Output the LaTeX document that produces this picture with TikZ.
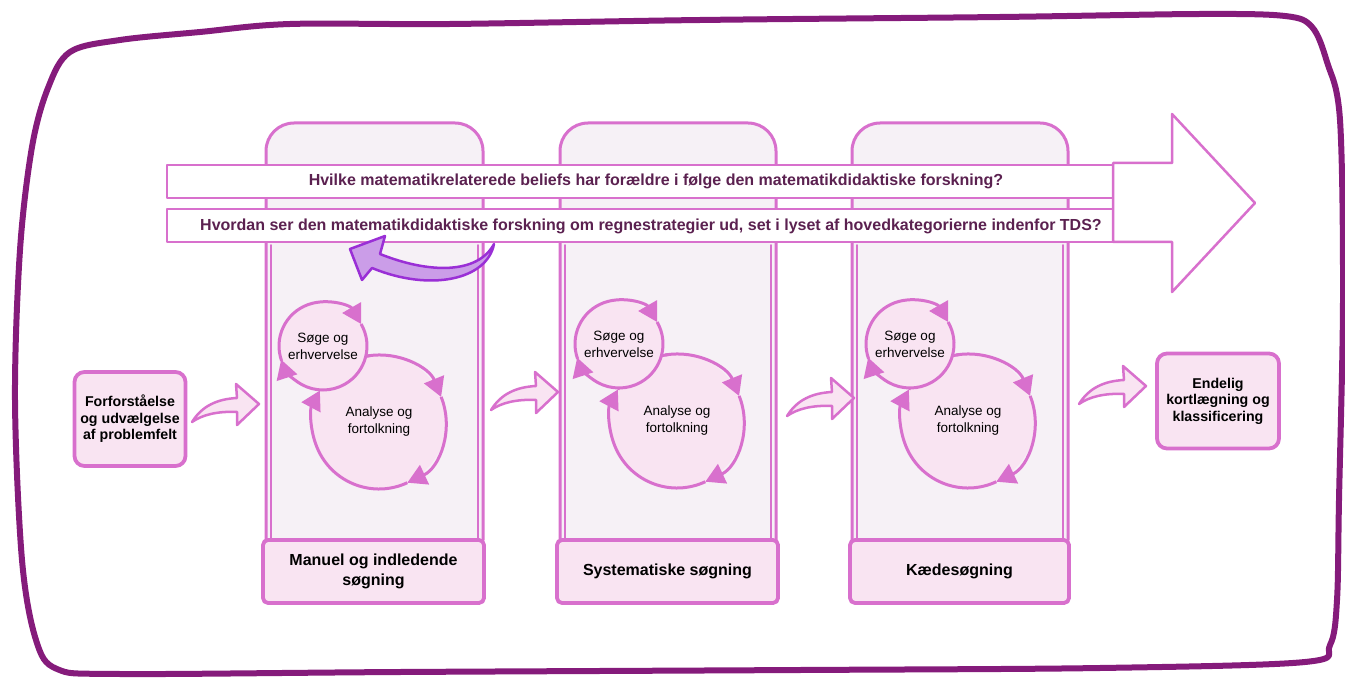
\documentclass[tikz,border=0pt]{standalone}
\usepackage{fontspec}
\setmainfont{Liberation Sans}
\usetikzlibrary{arrows.meta}
\definecolor{frame}{HTML}{851B7B}
\definecolor{orch}{HTML}{D870CD}
\definecolor{colbg}{HTML}{F6F1F6}
\definecolor{boxbg}{HTML}{F9E4F2}
\definecolor{qtext}{HTML}{5B2150}
\definecolor{violetfill}{HTML}{CB9DE8}
\definecolor{violetline}{HTML}{9A2FD6}
\begin{document}
\begin{tikzpicture}[x=1pt,y=-1pt,
  pinkline/.style={draw=orch, line width=3pt, line join=round, line cap=round},
  column/.style={pinkline, fill=colbg, rounded corners=28pt},
  sketch/.style={draw=orch, line width=1.8pt, line cap=round},
  bar/.style={draw=orch, line width=2.5pt, fill=white, line join=round},
  qlabel/.style={text=qtext, font=\bfseries\fontsize{16}{19}\selectfont, inner sep=0pt},
  labelbox/.style={pinkline, line width=3.8pt, fill=boxbg, rounded corners=5pt,
    minimum width=#1, minimum height=63pt, inner sep=0pt, align=center,
    font=\bfseries\fontsize{16}{20}\selectfont},
  sidebox/.style={pinkline, line width=3.8pt, fill=boxbg, rounded corners=10pt,
    inner sep=0pt, align=center, font=\bfseries\fontsize{14.2}{16.5}\selectfont},
  bubble/.style={circle, fill=boxbg, inner sep=0pt, minimum size=#1, align=center,
    font=\fontsize{13.5}{17}\selectfont},
  cyc/.style={draw=orch, line width=3pt, -{Triangle[length=19pt,width=21pt]}},
  cycplain/.style={draw=orch, line width=3pt},
  bend arrow/.pic={
    \filldraw[fill=boxbg, draw=orch, line width=2.5pt, line join=round]
      (0,0) .. controls (10,-16) and (25,-23) .. (45,-24) -- (44,-38) -- (67,-18)
      -- (45,3) -- (45,-10) .. controls (25,-11) and (10,-7) .. (0,0) -- cycle;
  }
]
\useasboundingbox (0,0) rectangle (1345,679);

% hand-drawn outer frame
\draw[frame, line width=6pt, line join=round]
  plot[smooth cycle, tension=0.55] coordinates {
    (32,147) (48,88) (70,52) (120,40) (200,32) (290,24) (450,24) (700,20)
    (1000,17) (1200,14) (1285,16) (1312,27) (1327,62) (1340,120) (1343,300)
    (1339,500) (1337,600) (1330,645) (1305,662) (1100,668) (800,670)
    (400,672) (120,674) (57,669) (36,640) (22,560) (15,400) (20,250)};

% three search phases (columns)
\path[column] (266,540) -- (266,123) -- (483,123) -- (483,540);
\path[column] (560,540) -- (560,123) -- (776,123) -- (776,540);
\path[column] (852,540) -- (852,123) -- (1068,123) -- (1068,540);
\foreach \l/\r in {266/483, 560/776, 852/1068}{
  \draw[sketch] (\l+5,245) -- (\l+5,538);
  \draw[sketch] (\r-5,245) -- (\r-5,538);
}

\node[labelbox=221pt] (p1) at (373.5,571.5) {Manuel og indledende\\søgning};
\node[labelbox=221pt] (p2) at (667.5,571.5) {Systematiske søgning};
\node[labelbox=219pt] (p3) at (959.5,571.5) {Kædesøgning};

% search / analysis cycles
\foreach \sx/\sy/\bx/\by/\k in {323/346/379/422/1, 619/344/677/421/2, 910/344/968/421/3}{
  \node[bubble=134pt] (a\k) at (\bx,\by) {Analyse og\\fortolkning};
  \begin{scope}[shift={(\bx,\by)}]
    \draw[cyc] (-100:67) arc[start angle=-100, end angle=-22, radius=67];
    \draw[cyc] (-22:67) arc[start angle=-22, end angle=65, radius=67];
    \draw[cyc] (65:67) arc[start angle=65, end angle=208, radius=67];
    \draw[cycplain] (208:67) arc[start angle=208, end angle=262, radius=67];
  \end{scope}
  \node[bubble=88pt] (s\k) at (\sx,\sy) {Søge og\\erhvervelse};
  \begin{scope}[shift={(\sx,\sy)}]
    \draw[cyc] (160:44) arc[start angle=160, end angle=330, radius=44];
    \draw[cyc] (330:44) arc[start angle=330, end angle=522, radius=44];
  \end{scope}
}

% research questions on the big arrow
\draw[bar] (167,165) rectangle (1113,198);
\draw[bar] (167,209) rectangle (1113,242);
\draw[bar] (1113,163) -- (1172,163) -- (1172,114) -- (1255,203) -- (1172,292)
  -- (1172,242) -- (1113,242) -- cycle;
\node[qlabel] (q1) at (656,181.5) {Hvilke matematikrelaterede beliefs har forældre i følge den matematikdidaktiske forskning?};
\node[qlabel] (q2) at (651,226) {Hvordan ser den matematikdidaktiske forskning om regnestrategier ud, set i lyset af hovedkategorierne indenfor TDS?};

% feedback arrow back to the questions
\filldraw[fill=violetfill, draw=violetline, line width=2.5pt, line join=round]
  (494,244) .. controls (478,274) and (430,274) .. (380,254) -- (385,236)
  -- (350,249) -- (362,280) -- (372,268) .. controls (430,292) and (487,280)
  .. (494,244) -- cycle;

% start and end boxes
\node[sidebox, minimum width=111pt, minimum height=94pt] (start) at (130,419)
  {Forforståelse\\og udvælgelse\\af problemfelt};
\node[sidebox, minimum width=122pt, minimum height=95pt] (end) at (1218,401)
  {Endelig\\kortlægning og\\klassificering};

% transitions between phases
\pic at (192,422) {bend arrow};
\pic at (491,410) {bend arrow};
\pic at (787,416) {bend arrow};
\pic at (1079,404) {bend arrow};
\end{tikzpicture}
\end{document}
